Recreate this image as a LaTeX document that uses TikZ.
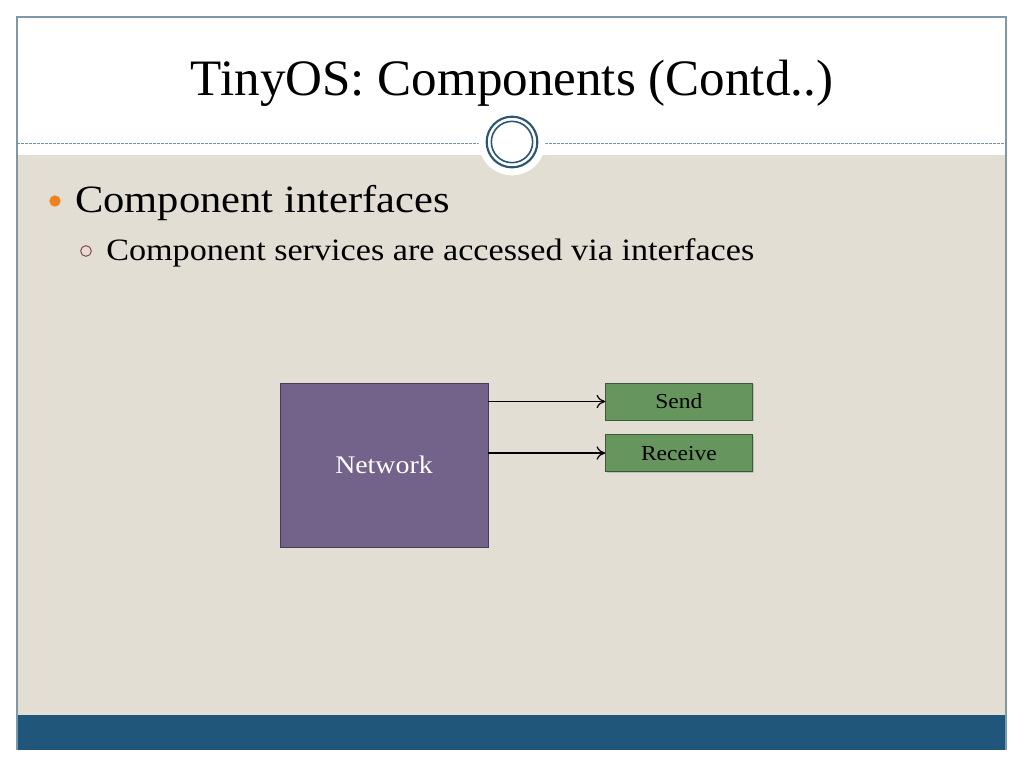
\documentclass[tikz,border=0pt]{standalone}
\usepackage{fontspec}
\setmainfont{Liberation Serif}
\newfontfamily\widefont[FakeStretch=1.1]{Liberation Serif}
\usetikzlibrary{
    arrows.meta,
    positioning,
    shadows
}
\definecolor{slideBeige}{RGB}{226,222,211}
\definecolor{slideBlue}{RGB}{31,86,121}
\definecolor{frameGray}{RGB}{127,152,168}
\definecolor{ringBlue}{RGB}{43,85,116}
\definecolor{dashBlue}{RGB}{111,144,168}
\definecolor{netPurple}{RGB}{115,98,137}
\definecolor{ifGreen}{RGB}{102,150,94}
\definecolor{dotOrange}{RGB}{240,130,30}
\definecolor{subRed}{RGB}{139,58,74}
\tikzset{
  comp/.style   = {draw=netPurple!60!black, fill=netPurple, text=white,
                   minimum width=156pt, minimum height=123pt,
                   font=\widefont\fontsize{19}{21}\selectfont, inner sep=0pt,
                   drop shadow={opacity=0.35, shadow xshift=1pt, shadow yshift=-1pt}},
  iface/.style  = {draw=ifGreen!60!black, fill=ifGreen, text=black,
                   minimum width=110pt, minimum height=27.75pt,
                   font=\widefont\fontsize{16}{18}\selectfont, inner sep=0pt,
                   drop shadow={opacity=0.35, shadow xshift=1pt, shadow yshift=-1pt}},
  arr/.style    = {-{To[length=6.5pt, width=10pt]}, line width=0.9pt, black},
  bodytext/.style = {anchor=base west, inner sep=0pt}
}

\begin{document}
\begin{tikzpicture}[x=0.75pt, y=-0.75pt]
    % slide background
    \fill[white] (0,0) rectangle (1024,768);
    \fill[slideBeige] (17,155) rectangle (1006,715);
    \fill[slideBlue] (17,715) rectangle (1006,750);
    \draw[frameGray, line width=1.2pt] (17,750) -- (17,17) -- (1006,17) -- (1006,750);
    \draw[dashBlue, dashed, dash pattern=on 2pt off 1pt, line width=0.6pt] (17,143) -- (1006,143);

    % ring in the middle of the rule
    \node[circle, fill=white, minimum size=50pt, inner sep=0pt] (ringbg) at (512,142) {};
    \node[circle, draw=ringBlue, line width=1.6pt, minimum size=38pt, inner sep=0pt] (ringout) at (512,142) {};
    \node[circle, draw=ringBlue, line width=1.2pt, minimum size=31pt, inner sep=0pt] (ringin) at (512,142) {};

    % title and bullets
    \node[anchor=base, inner sep=0pt, font=\fontsize{38.3}{43}\selectfont] (title) at (512,95) {TinyOS: Components (Contd..)};
    \node[circle, fill=dotOrange, minimum size=8.5pt, inner sep=0pt] (dotA) at (55,201) {};
    \node[bodytext, font=\widefont\fontsize{29}{32}\selectfont] (itemA) at (75,212) {Component interfaces};
    \node[circle, draw=subRed, line width=0.7pt, minimum size=8pt, inner sep=0pt] (dotB) at (86,251) {};
    \node[bodytext, font=\widefont\fontsize{23.3}{26}\selectfont] (itemB) at (106,260) {Component services are accessed via interfaces};

    % component and its interfaces
    \node[comp] (net) at (384,465) {Network};
    \node[iface, anchor=north west] (send) at ([xshift=87.75pt]net.north east) {Send};
    \node[iface, below=10.5pt of send] (recv) {Receive};

    \draw[arr] (net.east |- send) -- (send.west);
    \draw[arr] (net.east |- recv) -- (recv.west);
\end{tikzpicture}
\end{document}
